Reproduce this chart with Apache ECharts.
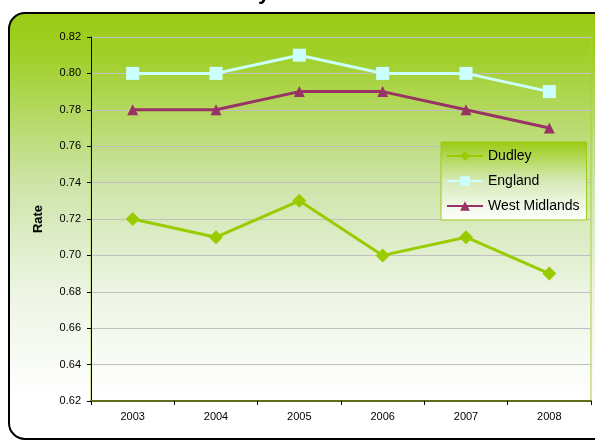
<!DOCTYPE html>
<html>
<head>
<meta charset="utf-8">
<script src="https://cdn.jsdelivr.net/npm/echarts@6/dist/echarts.min.js"></script>
<style>
  html, body { margin: 0; padding: 0; background: #fff; }
  #chart { width: 595px; height: 441px; }
</style>
</head>
<body>
<div id="chart"></div>
<script>
const years = ['2003', '2004', '2005', '2006', '2007', '2008'];
const dudley = [0.72, 0.71, 0.73, 0.70, 0.71, 0.69];
const england = [0.80, 0.80, 0.81, 0.80, 0.80, 0.79];
const westMidlands = [0.78, 0.78, 0.79, 0.79, 0.78, 0.77];

const chart = echarts.init(document.getElementById('chart'));
const font = 'Liberation Sans, Arial, sans-serif';

chart.setOption({
  animation: false,
  textStyle: { fontFamily: font },
  title: {
    text: 'Dudley',
    left: 192,
    top: -23,
    textStyle: { fontSize: 22, fontWeight: 'bold', color: '#000', fontFamily: font }
  },
  graphic: [
    {
      type: 'rect',
      z: -10,
      shape: { x: 9, y: 13, width: 600, height: 426, r: 16 },
      style: {
        fill: new echarts.graphic.LinearGradient(0, 0, 0, 1, [
          { offset: 0, color: '#9acb12' },
          { offset: 0.1, color: '#a0cf28' },
          { offset: 0.4, color: '#cde4a8' },
          { offset: 0.65, color: '#ecf4e2' },
          { offset: 0.9, color: '#ffffff' },
          { offset: 1, color: '#ffffff' }
        ]),
        stroke: '#000',
        lineWidth: 2
      }
    }
  ],
  grid: {
    left: 91,
    right: 4,
    top: 37,
    bottom: 40,
    show: true,
    backgroundColor: 'transparent',
    borderColor: '#a6d03a',
    borderWidth: 1
  },
  legend: {
    orient: 'vertical',
    left: 441,
    top: 142,
    padding: [7, 7, 7, 5],
    itemGap: 11,
    itemWidth: 36,
    itemHeight: 12,
    backgroundColor: new echarts.graphic.LinearGradient(0, 0, 0, 1, [
      { offset: 0, color: '#9acb12' },
      { offset: 0.5, color: '#d6eab8' },
      { offset: 1, color: '#ffffff' }
    ]),
    borderColor: '#9acb12',
    borderWidth: 1,
    textStyle: { fontSize: 14, color: '#000', fontFamily: font },
    data: ['Dudley', 'England', 'West Midlands']
  },
  xAxis: {
    type: 'category',
    data: years,
    axisLine: { lineStyle: { color: '#5e6e1c', width: 2 } },
    axisTick: { show: true, length: 4, lineStyle: { color: '#000' } },
    axisLabel: { fontSize: 11, color: '#000', margin: 10 },
    splitLine: { show: false }
  },
  yAxis: {
    type: 'value',
    min: 0.62,
    max: 0.82,
    interval: 0.02,
    name: 'Rate',
    nameLocation: 'middle',
    nameGap: 46,
    nameTextStyle: { fontSize: 13, fontWeight: 'bold', color: '#000' },
    axisLine: { show: true, lineStyle: { color: '#000' } },
    axisTick: { show: true, length: 4, lineStyle: { color: '#000' } },
    axisLabel: {
      fontSize: 11,
      color: '#000',
      margin: 10,
      formatter: v => v.toFixed(2)
    },
    splitLine: { show: true, lineStyle: { color: '#c0c0c0', width: 1 } }
  },
  series: [
    {
      name: 'Dudley',
      type: 'line',
      data: dudley,
      symbol: 'diamond',
      symbolSize: 14,
      lineStyle: { color: '#99cc00', width: 3 },
      itemStyle: { color: '#99cc00' }
    },
    {
      name: 'England',
      type: 'line',
      data: england,
      symbol: 'rect',
      symbolSize: 13,
      lineStyle: { color: '#ccffff', width: 3 },
      itemStyle: { color: '#ccffff' }
    },
    {
      name: 'West Midlands',
      type: 'line',
      data: westMidlands,
      symbol: 'triangle',
      symbolSize: 11,
      lineStyle: { color: '#993366', width: 3 },
      itemStyle: { color: '#993366' }
    }
  ]
});
</script>
</body>
</html>
